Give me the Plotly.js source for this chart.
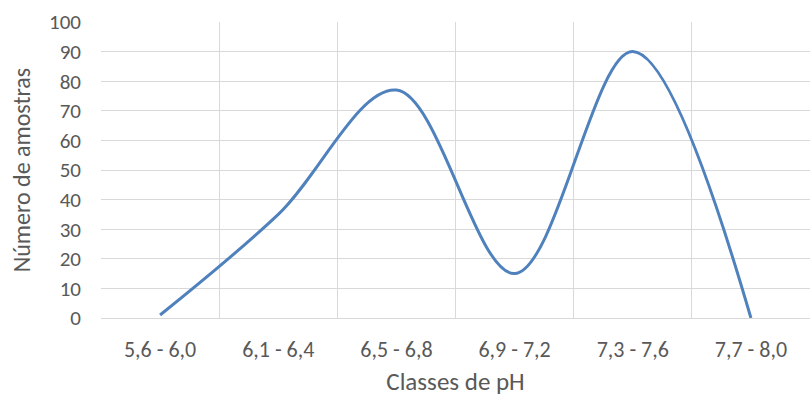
<!DOCTYPE html>
<html>
<head>
<meta charset="utf-8">
<script src="https://cdn.plot.ly/plotly-3.0.1.min.js"></script>
<style>html,body{margin:0;padding:0;background:#fff}#chart{width:810px;height:397px}</style>
</head>
<body>
<div id="chart"></div>
<script>
const categories = ["5,6 - 6,0", "6,1 - 6,4", "6,5 - 6,8", "6,9 - 7,2", "7,3 - 7,6", "7,7 - 8,0"];
const amostras = [1, 35, 77, 15, 90, 0];
const yTicks = [0, 10, 20, 30, 40, 50, 60, 70, 80, 90, 100];

const fontFam = "Carlito, Lato, sans-serif";
const trace = {
  x: categories,
  y: amostras,
  type: "scatter",
  mode: "lines",
  line: {color: "#4f81bd", width: 3, shape: "spline", smoothing: 1},
  hoverinfo: "x+y"
};
const layout = {
  width: 810, height: 397,
  margin: {l: 101, r: 0, t: 22, b: 79},
  paper_bgcolor: "#fff", plot_bgcolor: "#fff",
  showlegend: false,
  font: {family: fontFam, color: "#595959", size: 21},
  xaxis: {
    type: "category",
    range: [-0.5, 5.5],
    tickson: "boundaries",
    showgrid: true, gridcolor: "#d9d9d9", gridwidth: 1,
    ticks: "", showline: true, linecolor: "#d9d9d9", linewidth: 1,
    tickfont: {size: 22, color: "#595959"},
    ticklabelstandoff: 12,
    title: {text: "Classes de pH", font: {size: 25, color: "#595959"}, standoff: 10},
    zeroline: false, fixedrange: true
  },
  yaxis: {
    range: [0, 100],
    tickvals: yTicks,
    showgrid: true, gridcolor: "#d9d9d9", gridwidth: 1,
    showline: false, zeroline: false, ticks: "",
    tickfont: {size: 21, color: "#595959"},
    ticklabelstandoff: 19,
    title: {text: "Número de amostras", font: {size: 24, color: "#595959"}, standoff: 11},
    fixedrange: true
  }
};
Plotly.newPlot("chart", [trace], layout, {displayModeBar: false, staticPlot: true});
</script>
</body>
</html>
